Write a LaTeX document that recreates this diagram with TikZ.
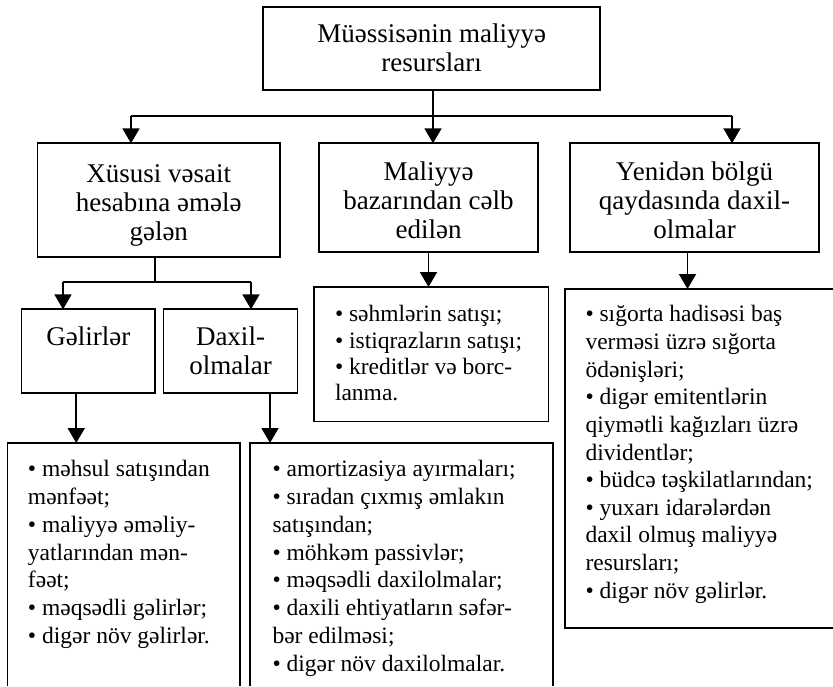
\documentclass[tikz,border=0pt]{standalone}
\usepackage{fontspec}
\setmainfont{Liberation Serif}
\usetikzlibrary{arrows.meta}

% heading box: width, height, rise of first baseline, text
\newcommand{\headbox}[4]{%
  \parbox[c][#2][t]{#1}{\fontsize{27}{29.2}\selectfont\centering
    \rule{0pt}{#3}#4\par}}
% list box: width, height, left indent, line spacing, rise of first baseline, text
\newcommand{\listbox}[6]{%
  \parbox[c][#2][t]{#1}{\fontsize{23.5}{#4}\selectfont\raggedright
    \leftskip=#3\relax\parindent=0pt\rule{0pt}{#5}#6\par}}

\tikzset{
  box/.style={draw, line width=1.9pt, inner sep=0pt, outer sep=0pt, anchor=north west},
  openbox/.style={inner sep=0pt, outer sep=0pt, anchor=north west},
  edge3/.style={line width=1.9pt, line join=miter},
  link/.style={line width=1.9pt},
  arr/.style={line width=1.9pt, -{Triangle[width=17pt,length=15pt]}},
}

\begin{document}
\begin{tikzpicture}[x=1pt,y=-1pt]
\useasboundingbox (0,0) rectangle (833,686);

% top level
\node[box] (top) at (263.3,6.7)
  {\headbox{336.7pt}{83.3pt}{35.6pt}{Müəssisənin maliyyə\\resursları}};

% second level
\node[box] (xus) at (37.5,143.3)
  {\headbox{242.5pt}{114pt}{39pt}{Xüsusi vəsait\\hesabına əmələ\\gələn}};
\node[box] (mal) at (319,143.3)
  {\headbox{219pt}{108.4pt}{36.7pt}{Maliyyə\\bazarından cəlb\\edilən}};
\node[box] (yen) at (570,143.3)
  {\headbox{249pt}{108.4pt}{36.7pt}{Yenidən bölgü\\qaydasında daxil-\\olmalar}};

% third level
\node[box] (gel) at (21.5,309.3)
  {\headbox{133.5pt}{84pt}{35.7pt}{Gəlirlər}};
\node[box] (dax) at (163.5,309.3)
  {\headbox{134pt}{84pt}{35.7pt}{Daxil-\\olmalar}};

% lists
\node[box] (mb) at (314,287)
  {\listbox{234.5pt}{134.5pt}{21pt}{26.3}{34.7pt}{%
    • səhmlərin satışı;\\
    • istiqrazların satışı;\\
    • kreditlər və borc-\\
    lanma.}};

\node[openbox] (rb) at (565,289)
  {\listbox{268pt}{339pt}{20.5pt}{27.66}{32.7pt}{%
    • sığorta hadisəsi baş\\
    verməsi üzrə sığorta\\
    ödənişləri;\\
    • digər emitentlərin\\
    qiymətli kağızları üzrə\\
    dividentlər;\\
    • büdcə təşkilatlarından;\\
    • yuxarı idarələrdən\\
    daxil olmuş maliyyə\\
    resursları;\\
    • digər növ gəlirlər.}};
\draw[edge3] (rb.north east) -- (rb.north west) -- (rb.south west) -- (rb.south east);

\node[openbox] (bl) at (7.5,443)
  {\listbox{232.5pt}{243pt}{20.5pt}{27.77}{33.7pt}{%
    • məhsul satışından\\
    mənfəət;\\
    • maliyyə əməliy-\\
    yatlarından mən-\\
    fəət;\\
    • məqsədli gəlirlər;\\
    • digər növ gəlirlər.}};
\draw[edge3] (bl.south west) -- (bl.north west) -- (bl.north east) -- (bl.south east);

\node[openbox] (bm) at (250,443)
  {\listbox{303pt}{243pt}{22.5pt}{27.77}{33.7pt}{%
    • amortizasiya ayırmaları;\\
    • sıradan çıxmış əmlakın\\
    satışından;\\
    • möhkəm passivlər;\\
    • məqsədli daxilolmalar;\\
    • daxili ehtiyatların səfər-\\
    bər edilməsi;\\
    • digər növ daxilolmalar.}};
\draw[edge3] (bm.south west) -- (bm.north west) -- (bm.north east) -- (bm.south east);

% branching from the top box
\coordinate (bus)  at (433,115.7);
\coordinate (busL) at (131,115.7);
\coordinate (busR) at (732,115.7);
\draw[link] (bus |- top.south) -- (bus);
\draw[link] (busL) -- (busR);
\draw[arr] (busL) -- (busL |- xus.north);
\draw[arr] (bus)  -- (bus |- mal.north);
\draw[arr] (busR) -- (busR |- yen.north);

% branching from the own-funds box
\coordinate (sub)  at (155,282);
\coordinate (subL) at (63,282);
\coordinate (subR) at (251,282);
\draw[link] (sub |- xus.south) -- (sub);
\draw[link] (subL) -- (subR);
\draw[arr] (subL) -- (subL |- gel.north);
\draw[arr] (subR) -- (subR |- dax.north);

% single arrows down to the lists
\draw[arr] (mal.south) -- (mal.south |- mb.north);
\draw[arr] ([xshift=-7pt]yen.south) -- ([xshift=-7pt]yen.south |- rb.north);
\draw[arr] ([xshift=-12pt]gel.south) -- ([xshift=-12pt]gel.south |- bl.north);
\draw[arr] ([xshift=39.5pt]dax.south) -- ([xshift=39.5pt]dax.south |- bm.north);
\end{tikzpicture}
\end{document}
